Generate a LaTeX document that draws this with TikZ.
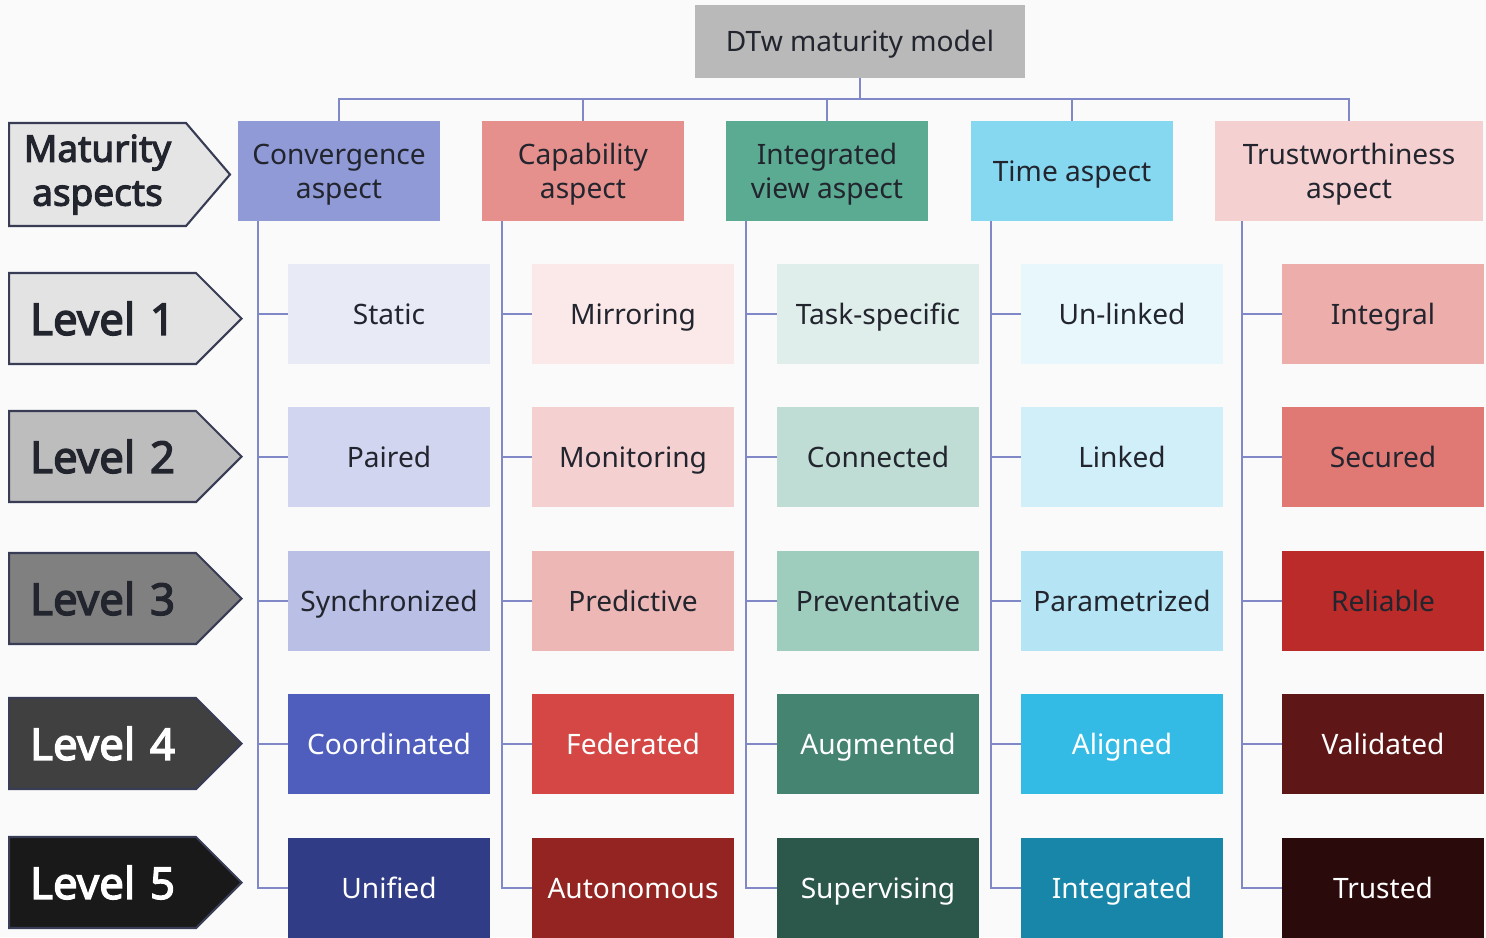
\documentclass[tikz,border=0pt]{standalone}
\usepackage{fontspec}
\setmainfont{Noto Sans}[AutoFakeBold=3]
\usepackage{tikz}
\usetikzlibrary{shapes.symbols}

\definecolor{pagebg}{HTML}{FAFAFA}
\definecolor{linkcol}{HTML}{8088C8}
\definecolor{inkdark}{HTML}{22252E}
\definecolor{rimcol}{HTML}{383D55}
% convergence column
\definecolor{convA}{HTML}{8F9AD6}
\definecolor{conv1}{HTML}{E8EAF6}
\definecolor{conv2}{HTML}{D2D5EF}
\definecolor{conv3}{HTML}{BAC0E5}
\definecolor{conv4}{HTML}{4F5DBD}
\definecolor{conv5}{HTML}{303C85}
% capability column
\definecolor{capA}{HTML}{E5908C}
\definecolor{cap1}{HTML}{FBE9EA}
\definecolor{cap2}{HTML}{F5D0D1}
\definecolor{cap3}{HTML}{EDB7B5}
\definecolor{cap4}{HTML}{D44744}
\definecolor{cap5}{HTML}{932421}
% integrated view column
\definecolor{viewA}{HTML}{5BAB92}
\definecolor{view1}{HTML}{DFEEEA}
\definecolor{view2}{HTML}{BFDDD4}
\definecolor{view3}{HTML}{9ECDBE}
\definecolor{view4}{HTML}{448471}
\definecolor{view5}{HTML}{2C574B}
% time column
\definecolor{timeA}{HTML}{86D7F0}
\definecolor{time1}{HTML}{E8F7FC}
\definecolor{time2}{HTML}{D0EFF9}
\definecolor{time3}{HTML}{B5E5F4}
\definecolor{time4}{HTML}{33BBE6}
\definecolor{time5}{HTML}{1886A9}
% trustworthiness column
\definecolor{trustA}{HTML}{F5D0D1}
\definecolor{trust1}{HTML}{EDADAB}
\definecolor{trust2}{HTML}{E07874}
\definecolor{trust3}{HTML}{BA2B29}
\definecolor{trust4}{HTML}{5E1716}
\definecolor{trust5}{HTML}{2A0A0A}

\tikzset{
  aspectbox/.style={rectangle, minimum width=4.04cm, minimum height=2cm, inner sep=0pt, align=center, text depth=0pt, text=inkdark, font=\fontsize{16}{19.5}\selectfont},
  stagebox/.style={aspectbox, text height=11.4pt},
  darkstage/.style={stagebox, text=white},
  titlebox/.style={stagebox, fill=gray!55, minimum width=6.6cm, minimum height=1.46cm},
  levelsign/.style={shape=signal, signal to=east, signal pointer angle=90, draw=rimcol, line width=1.2pt, text width=3.74cm, align=center, inner xsep=0pt, minimum height=1.82cm, anchor=west, text=inkdark, font=\fontsize{25}{28}\selectfont\bfseries},
  link/.style={draw=linkcol, line width=1pt}
}

\begin{document}
\begin{tikzpicture}[x=0.02cm, y=-0.02cm]
  \fill[pagebg] (0,0) rectangle (1486,937);
  \useasboundingbox (0,0) rectangle (1486,937);

  \node[titlebox] (model) at (860,41.5) {DTw maturity model};

  % aspect headers
  \node[aspectbox, fill=convA] (conv) at (339,171) {Convergence\\aspect};
  \node[aspectbox, fill=capA] (capab) at (583,171) {Capability\\aspect};
  \node[aspectbox, fill=viewA] (view) at (827,171) {Integrated\\view aspect};
  \node[stagebox, fill=timeA] (timeasp) at (1072,171) {Time aspect};
  \node[aspectbox, fill=trustA, minimum width=5.36cm] (trust) at (1349,171) {Trustworthiness\\aspect};

  % level markers on the left
  \node[levelsign, fill=gray!20, text width=3.54cm, minimum height=2.06cm, signal pointer angle=99, font=\fontsize{21}{25}\selectfont\bfseries] (aspects) at (8,174.5) {Maturity\\aspects};
  \node[levelsign, fill=gray!22] (lvl1) at (8,318.5) {Level 1};
  \node[levelsign, fill=gray!52] (lvl2) at (8,456.5) {Level 2};
  \node[levelsign, fill=gray] (lvl3) at (8,598.5) {Level 3};
  \node[levelsign, fill=black!75, text=white] (lvl4) at (8,743.5) {Level 4};
  \node[levelsign, fill=black!90, text=white] (lvl5) at (8,882.5) {Level 5};

  % convergence
  \node[stagebox, fill=conv1] (static) at (389,314) {Static};
  \node[stagebox, fill=conv2] (paired) at (389,457) {Paired};
  \node[stagebox, fill=conv3] (synced) at (389,601) {Synchronized};
  \node[darkstage, fill=conv4] (coordinated) at (389,744) {Coordinated};
  \node[darkstage, fill=conv5] (unified) at (389,888) {Unified};

  % capability
  \node[stagebox, fill=cap1] (mirror) at (633,314) {Mirroring};
  \node[stagebox, fill=cap2] (monitor) at (633,457) {Monitoring};
  \node[stagebox, fill=cap3] (predict) at (633,601) {Predictive};
  \node[darkstage, fill=cap4] (federated) at (633,744) {Federated};
  \node[darkstage, fill=cap5] (autonomous) at (633,888) {Autonomous};

  % integrated view
  \node[stagebox, fill=view1] (taskspec) at (878,314) {Task-specific};
  \node[stagebox, fill=view2] (connected) at (878,457) {Connected};
  \node[stagebox, fill=view3] (prevent) at (878,601) {Preventative};
  \node[darkstage, fill=view4] (augmented) at (878,744) {Augmented};
  \node[darkstage, fill=view5] (supervise) at (878,888) {Supervising};

  % time
  \node[stagebox, fill=time1] (unlinked) at (1122,314) {Un-linked};
  \node[stagebox, fill=time2] (linked) at (1122,457) {Linked};
  \node[stagebox, fill=time3] (param) at (1122,601) {Parametrized};
  \node[darkstage, fill=time4] (aligned) at (1122,744) {Aligned};
  \node[darkstage, fill=time5] (integrated) at (1122,888) {Integrated};

  % trustworthiness
  \node[stagebox, fill=trust1] (integral) at (1383,314) {Integral};
  \node[stagebox, fill=trust2] (secured) at (1383,457) {Secured};
  \node[stagebox, fill=trust3] (reliable) at (1383,601) {Reliable};
  \node[darkstage, fill=trust4] (validated) at (1383,744) {Validated};
  \node[darkstage, fill=trust5] (trusted) at (1383,888) {Trusted};

  % top bus
  \draw[link] (model.south) -- ++(0,21) coordinate (bus);
  \draw[link] (conv.north) |- (bus) (capab.north) |- (bus) (view.north) |- (bus)
    (timeasp.north) |- (bus) (trust.north) |- (bus);

  % column trunks
  \coordinate (convtrunk) at ([xshift=0.4cm]conv.south west);
  \coordinate (captrunk) at ([xshift=0.4cm]capab.south west);
  \coordinate (viewtrunk) at ([xshift=0.4cm]view.south west);
  \coordinate (timetrunk) at ([xshift=0.4cm]timeasp.south west);
  \coordinate (trusttrunk) at ([xshift=0.54cm]trust.south west);

  \draw[link] (convtrunk) |- (static) (convtrunk) |- (paired) (convtrunk) |- (synced)
    (convtrunk) |- (coordinated) (convtrunk) |- (unified);
  \draw[link] (captrunk) |- (mirror) (captrunk) |- (monitor) (captrunk) |- (predict)
    (captrunk) |- (federated) (captrunk) |- (autonomous);
  \draw[link] (viewtrunk) |- (taskspec) (viewtrunk) |- (connected) (viewtrunk) |- (prevent)
    (viewtrunk) |- (augmented) (viewtrunk) |- (supervise);
  \draw[link] (timetrunk) |- (unlinked) (timetrunk) |- (linked) (timetrunk) |- (param)
    (timetrunk) |- (aligned) (timetrunk) |- (integrated);
  \draw[link] (trusttrunk) |- (integral) (trusttrunk) |- (secured) (trusttrunk) |- (reliable)
    (trusttrunk) |- (validated) (trusttrunk) |- (trusted);
\end{tikzpicture}
\end{document}
